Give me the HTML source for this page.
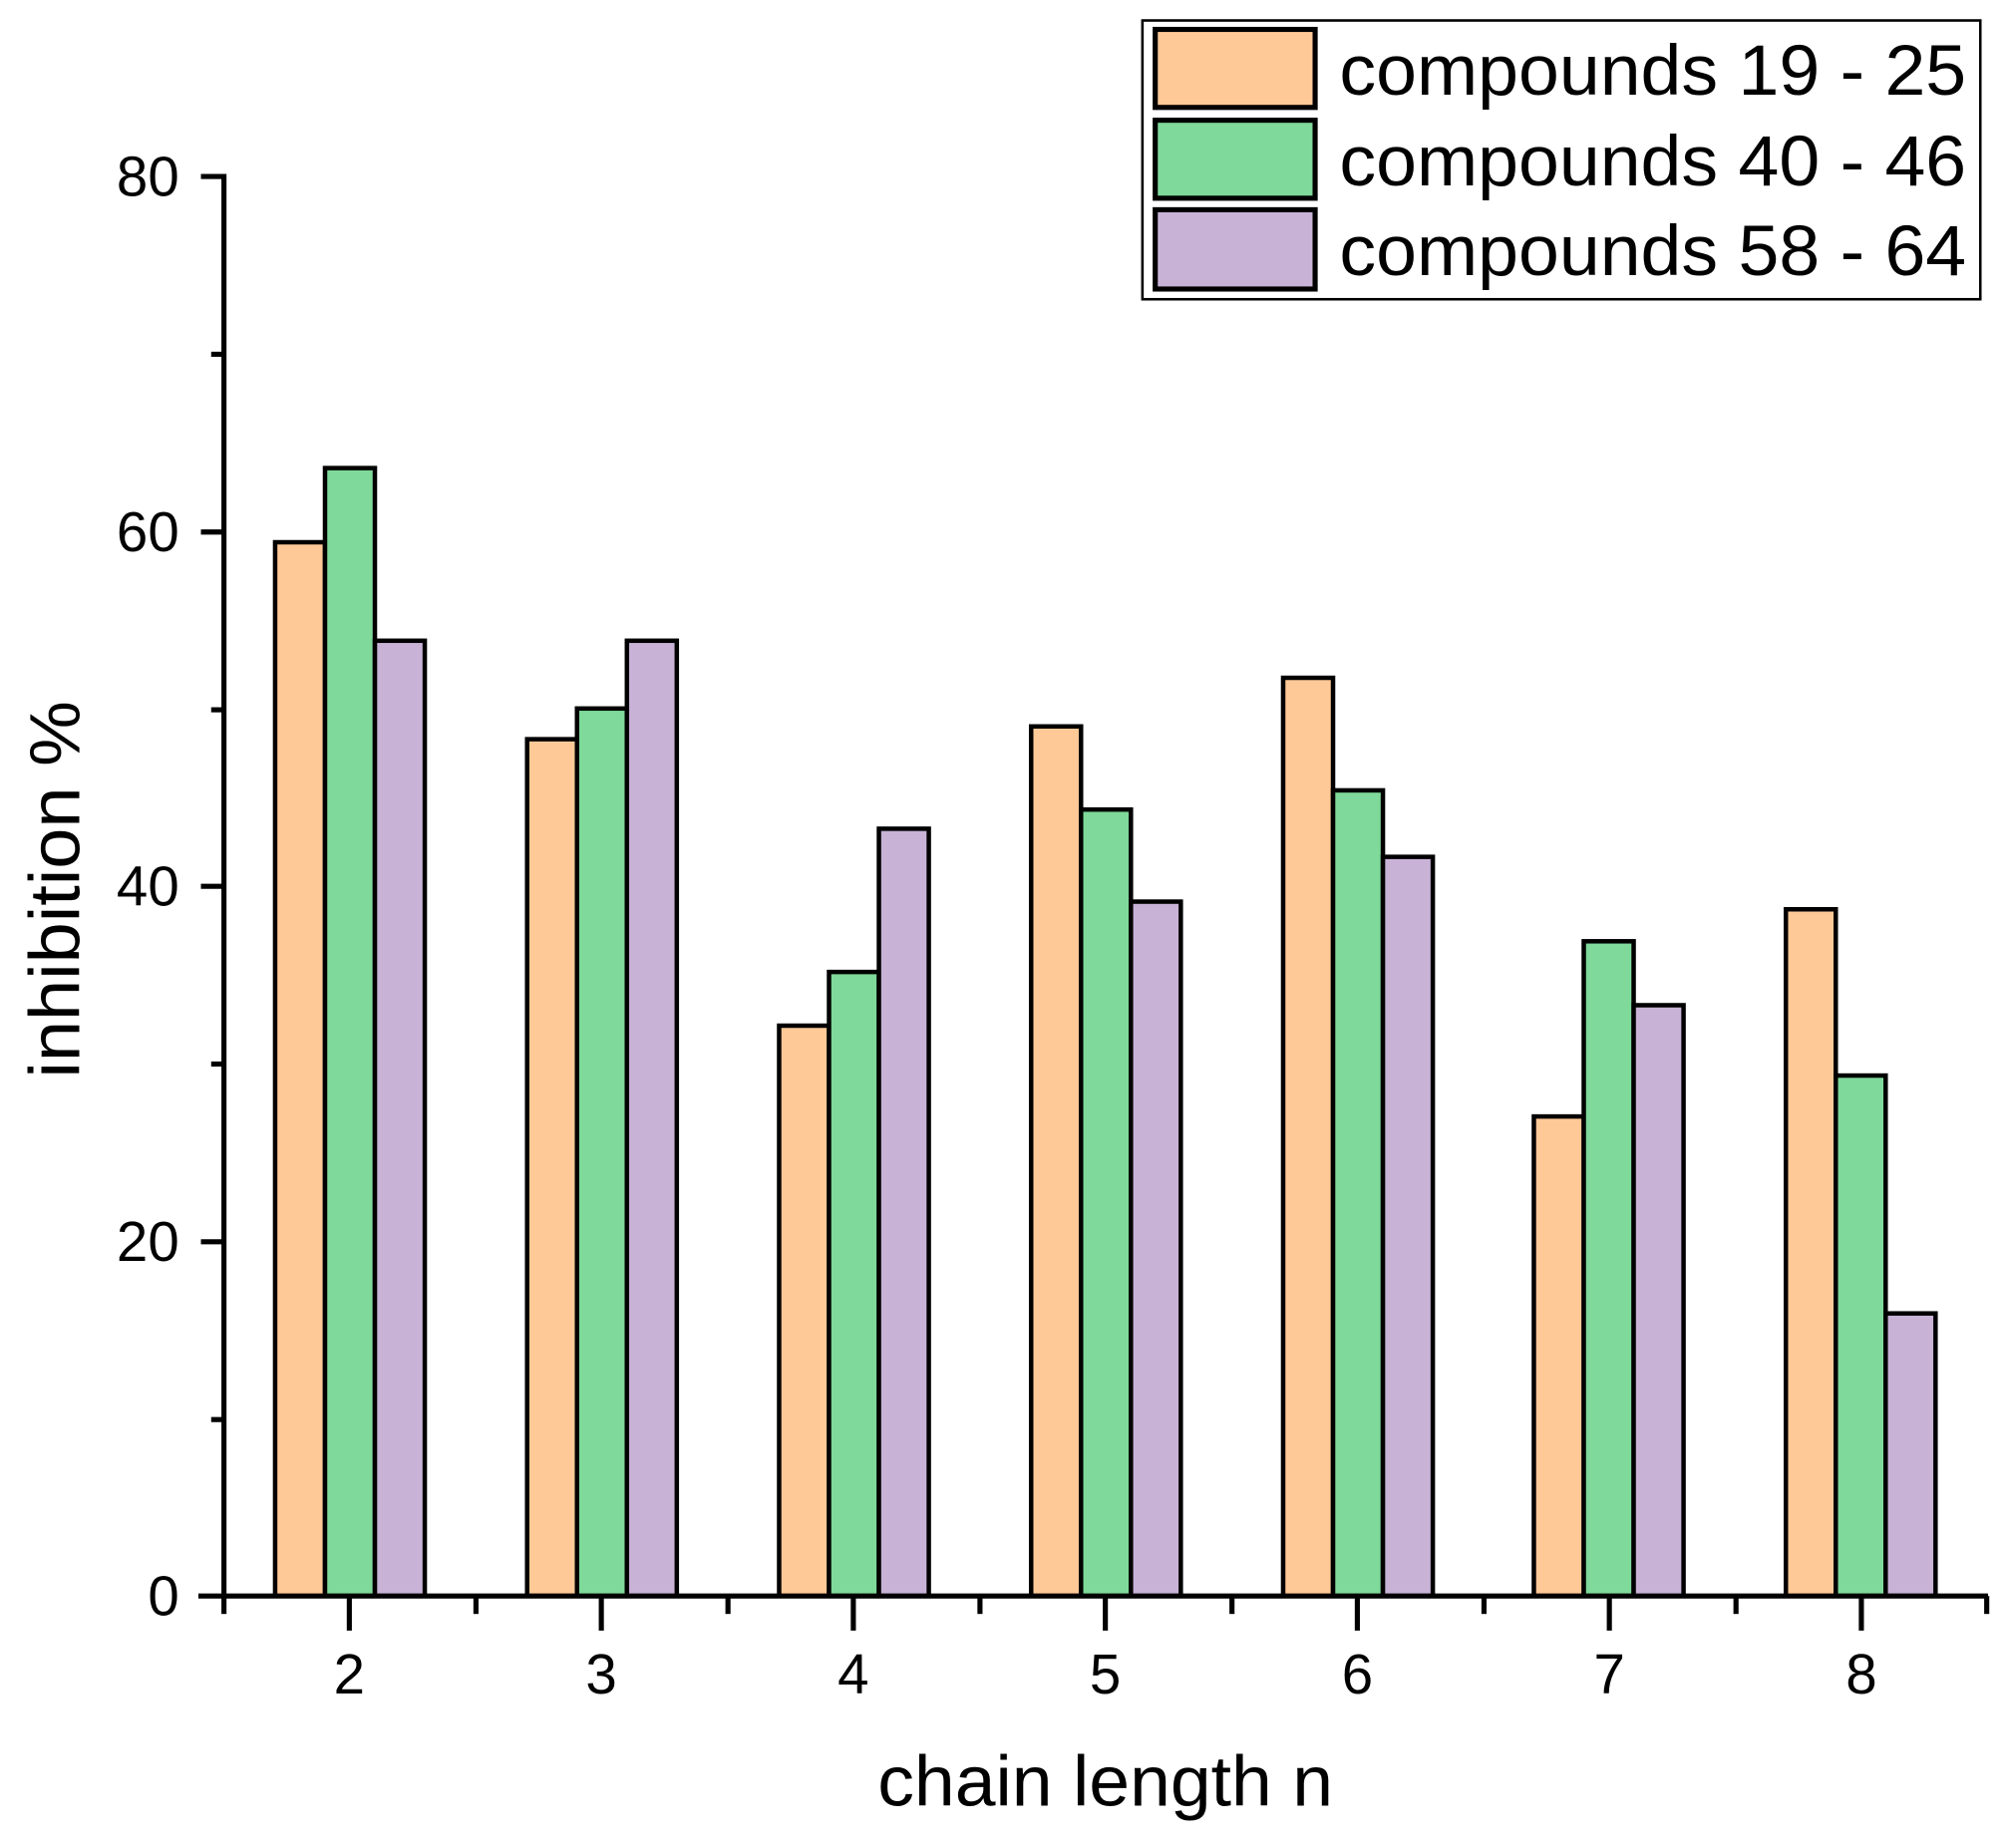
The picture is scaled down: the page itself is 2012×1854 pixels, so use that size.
<!DOCTYPE html><html><head><style>body{margin:0;background:#fff}svg{display:block}</style></head><body>
<svg width="2012" height="1854" viewBox="0 0 1568 1445" xmlns="http://www.w3.org/2000/svg" font-family="Liberation Sans, Arial, sans-serif">
<rect width="1568" height="1445" fill="#fff"/>
<g stroke="#000" stroke-width="3.5">
<rect x="215" y="424" width="39" height="824" fill="#FFC997"/><rect x="254" y="366" width="39" height="882" fill="#7FD99A"/><rect x="293" y="501" width="39" height="747" fill="#C8B2D6"/>
<rect x="412" y="578" width="39" height="670" fill="#FFC997"/><rect x="451" y="554" width="39" height="694" fill="#7FD99A"/><rect x="490" y="501" width="39" height="747" fill="#C8B2D6"/>
<rect x="609" y="802" width="39" height="446" fill="#FFC997"/><rect x="648" y="760" width="39" height="488" fill="#7FD99A"/><rect x="687" y="648" width="39" height="600" fill="#C8B2D6"/>
<rect x="806" y="568" width="39" height="680" fill="#FFC997"/><rect x="845" y="633" width="39" height="615" fill="#7FD99A"/><rect x="884" y="705" width="39" height="543" fill="#C8B2D6"/>
<rect x="1003" y="530" width="39" height="718" fill="#FFC997"/><rect x="1042" y="618" width="39" height="630" fill="#7FD99A"/><rect x="1081" y="670" width="39" height="578" fill="#C8B2D6"/>
<rect x="1199" y="873" width="39" height="375" fill="#FFC997"/><rect x="1238" y="736" width="39" height="512" fill="#7FD99A"/><rect x="1277" y="786" width="39" height="462" fill="#C8B2D6"/>
<rect x="1396" y="711" width="39" height="537" fill="#FFC997"/><rect x="1435" y="841" width="39" height="407" fill="#7FD99A"/><rect x="1474" y="1027" width="39" height="221" fill="#C8B2D6"/>
<g stroke-width="4">
<line x1="175" y1="136" x2="175" y2="1250"/>
<line x1="155" y1="1248" x2="1554" y2="1248"/>
<line x1="157" y1="138" x2="175" y2="138"/><line x1="157" y1="416" x2="175" y2="416"/><line x1="157" y1="693" x2="175" y2="693"/><line x1="157" y1="971" x2="175" y2="971"/>
<line x1="165" y1="277" x2="175" y2="277"/><line x1="165" y1="555" x2="175" y2="555"/><line x1="165" y1="832" x2="175" y2="832"/><line x1="165" y1="1110" x2="175" y2="1110"/>
<line x1="273" y1="1248" x2="273" y2="1275"/><line x1="470" y1="1248" x2="470" y2="1275"/><line x1="667" y1="1248" x2="667" y2="1275"/><line x1="864" y1="1248" x2="864" y2="1275"/><line x1="1061" y1="1248" x2="1061" y2="1275"/><line x1="1258" y1="1248" x2="1258" y2="1275"/><line x1="1455" y1="1248" x2="1455" y2="1275"/>
<line x1="175" y1="1248" x2="175" y2="1262"/><line x1="372" y1="1248" x2="372" y2="1262"/><line x1="569" y1="1248" x2="569" y2="1262"/><line x1="766" y1="1248" x2="766" y2="1262"/><line x1="963" y1="1248" x2="963" y2="1262"/><line x1="1160" y1="1248" x2="1160" y2="1262"/><line x1="1357" y1="1248" x2="1357" y2="1262"/><line x1="1553" y1="1248" x2="1553" y2="1262"/>
</g>
<rect x="893" y="16" width="655" height="218" fill="#fff" stroke-width="2"/>
<rect x="903" y="23" width="125" height="61" fill="#FFC997" stroke-width="4"/>
<rect x="903" y="94" width="125" height="61" fill="#7FD99A" stroke-width="4"/>
<rect x="903" y="164" width="125" height="62" fill="#C8B2D6" stroke-width="4"/>
</g>
<g font-size="56" fill="#000">
<text x="1047" y="74" textLength="490" lengthAdjust="spacingAndGlyphs">compounds 19 - 25</text>
<text x="1047" y="145" textLength="490" lengthAdjust="spacingAndGlyphs">compounds 40 - 46</text>
<text x="1047" y="215" textLength="490" lengthAdjust="spacingAndGlyphs">compounds 58 - 64</text>
</g>
<g font-size="44" text-anchor="end">
<text x="140" y="153">80</text><text x="140" y="431">60</text><text x="140" y="708">40</text><text x="140" y="986">20</text><text x="140" y="1263">0</text>
</g>
<g font-size="44" text-anchor="middle">
<text x="273" y="1324">2</text><text x="470" y="1324">3</text><text x="667" y="1324">4</text><text x="864" y="1324">5</text><text x="1061" y="1324">6</text><text x="1258" y="1324">7</text><text x="1455" y="1324">8</text>
</g>
<text x="686" y="1412" font-size="56" textLength="356" lengthAdjust="spacingAndGlyphs">chain length n</text>
<text transform="translate(62,843) rotate(-90)" font-size="56" textLength="295" lengthAdjust="spacingAndGlyphs">inhibition %</text>
</svg>
</body></html>
